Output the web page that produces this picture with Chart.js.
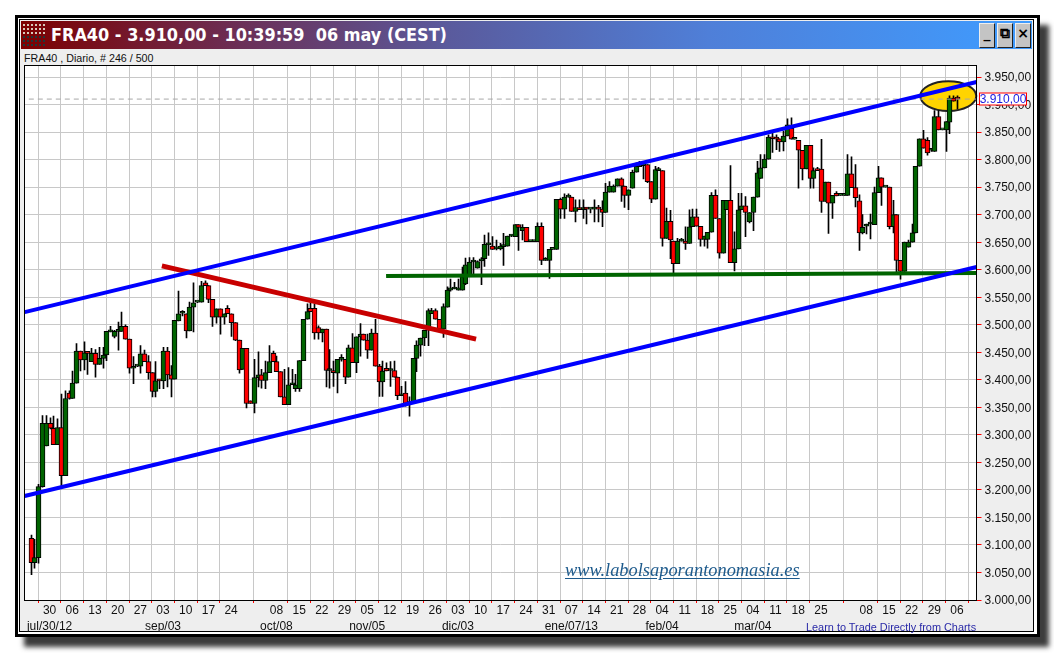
<!DOCTYPE html>
<html>
<head>
<meta charset="utf-8">
<title>FRA40</title>
<script src="https://cdn.jsdelivr.net/npm/chart.js@4"></script>
<style>
html, body { margin: 0; padding: 0; background: #fff; width: 1054px; height: 653px; overflow: hidden; }
#win { position: absolute; left: 15px; top: 15px; width: 1019px; height: 616px; border: 3px solid #000; background: #fff; box-shadow: 9px 10px 5px #3c3c3c; }
#inner { position: absolute; left: 1px; top: 1px; width: 1013px; height: 611px; border: 1px solid #000; background: #eee; }
#bar { position: absolute; left: 1px; top: 1px; width: 1011px; height: 28px; background: linear-gradient(90deg, #7d0000 0%, #6b3058 22%, #5a5a9c 42%, #4f7fd8 68%, #3f9cff 100%); }
#grip { position: absolute; left: 1px; top: 2px; width: 25px; height: 12px; background-image: radial-gradient(circle, #d8c8b8 1px, transparent 1.2px); background-size: 4px 4px; }
#grip2 { position: absolute; left: 1px; top: 14px; width: 25px; height: 12px; background-image: radial-gradient(circle, #20383a 1px, transparent 1.2px); background-size: 4px 4px; }
#title { position: absolute; left: 30px; top: 3px; font: bold 17.9px "DejaVu Sans", sans-serif; font-stretch: condensed; color: #fff; white-space: pre; }
.btn { position: absolute; top: 2px; width: 14px; height: 23px; background: #c4c4c4; border: 1px solid; border-color: #eee #222 #222 #eee; font: bold 14px "DejaVu Sans", sans-serif; color: #000; text-align: center; line-height: 18px; }
#info { position: absolute; left: 24px; top: 52px; font: 10.7px "Liberation Sans", sans-serif; color: #111; white-space: nowrap; }
#chartBox { position: absolute; left: 20px; top: 60px; }
#site { position: absolute; left: 565px; top: 560px; font: italic 18.4px "Liberation Serif", serif; color: #1d5a8c; text-decoration: underline; text-underline-offset: 2px; white-space: nowrap; }
#learn { position: absolute; left: 806px; top: 621px; font: 10.9px "Liberation Sans", sans-serif; color: #2a2aa8; white-space: nowrap; }
</style>
</head>
<body>
<div id="win"><div id="inner">
  <div id="bar">
    <div id="grip"></div><div id="grip2"></div>
    <div id="title">FRA40 - 3.910,00 - 10:39:59  06 may (CEST)</div>
    <div class="btn" style="left:958px">_</div>
    <div class="btn" style="left:976px">&#10697;</div>
    <div class="btn" style="left:994px">×</div>
  </div>
</div></div>
<div id="info">FRA40 , Diario, # 246 / 500</div>
<div id="chartBox"><canvas id="graficoVelas" width="1013" height="572"></canvas></div>
<div id="site">www.labolsaporantonomasia.es</div>
<div id="learn">Learn to Trade Directly from Charts</div>

<script>
// velas diarias, una fila por cada 10 barras
const opens = [
  3112,3068,3077,3206,3280,3321,3312,3282,3313,3226,
  3376,3366,3394,3452,3436,3449,3433,3448,3428,3439,
  3445,3487,3479,3488,3488,3497,3474,3421,3425,3425,
  3447,3433,3413,3379,3401,3398,3452,3409,3401,3507,
  3521,3520,3489,3532,3541,3541,3576,3571,3546,3514,
  3529,3514,3530,3520,3504,3472,3419,3457,3362,3357,
  3404,3409,3399,3413,3448,3433,3415,3369,3355,3391,
  3384,3384,3435,3510,3530,3530,3495,3485,3492,3417,
  3417,3412,3437,3437,3405,3458,3431,3478,3483,3472,
  3454,3485,3425,3396,3421,3417,3417,3405,3371,3376,
  3357,3357,3439,3463,3476,3490,3520,3526,3510,3492,
  3532,3563,3565,3563,3563,3574,3591,3614,3603,3616,
  3620,3645,3643,3638,3638,3642,3643,3661,3660,3682,
  3671,3677,3651,3651,3651,3679,3617,3617,3637,3637,
  3728,3710,3732,3732,3706,3713,3709,3713,3710,3710,
  3713,3710,3704,3741,3741,3752,3765,3752,3735,3748,
  3777,3787,3789,3791,3760,3728,3780,3780,3657,3688,
  3652,3611,3652,3652,3648,3678,3696,3679,3655,3655,
  3668,3735,3693,3630,3709,3726,3613,3638,3709,3716,
  3687,3704,3732,3766,3785,3801,3841,3841,3838,3832,
  3843,3857,3837,3835,3817,3783,3826,3766,3781,3783,
  3724,3759,3721,3739,3735,3735,3735,3774,3749,3725,
  3667,3679,3683,3682,3740,3767,3750,3750,3678,3700,
  3617,3597,3641,3650,3667,3788,3838,3835,3817,3815,
  3878,3854,3854,3868,3912,3912
];
const highs = [
  3118,3110,3210,3335,3335,3331,3334,3329,3374,3380,
  3380,3416,3466,3452,3469,3449,3457,3455,3459,3459,
  3488,3497,3490,3505,3523,3500,3474,3442,3425,3462,
  3454,3444,3413,3433,3401,3459,3459,3426,3508,3561,
  3526,3520,3541,3576,3541,3579,3580,3571,3546,3529,
  3529,3520,3535,3520,3504,3472,3457,3457,3362,3437,
  3451,3419,3434,3462,3452,3443,3415,3419,3422,3419,
  3410,3435,3510,3538,3541,3538,3498,3492,3492,3455,
  3434,3437,3446,3437,3463,3484,3478,3502,3483,3483,
  3492,3510,3428,3434,3431,3433,3434,3405,3388,3397,
  3369,3439,3471,3476,3490,3529,3530,3529,3510,3538,
  3569,3583,3577,3583,3605,3621,3622,3622,3616,3622,
  3663,3667,3660,3654,3648,3666,3661,3663,3682,3682,
  3682,3677,3651,3651,3685,3685,3622,3637,3637,3728,
  3730,3738,3738,3732,3727,3727,3727,3713,3710,3727,
  3717,3725,3757,3760,3754,3765,3767,3752,3745,3781,
  3794,3797,3794,3791,3760,3788,3786,3780,3712,3708,
  3652,3657,3657,3678,3709,3710,3710,3679,3661,3668,
  3740,3745,3693,3726,3726,3789,3669,3739,3739,3733,
  3704,3732,3797,3809,3809,3845,3848,3845,3838,3852,
  3874,3876,3837,3835,3817,3826,3826,3785,3786,3837,
  3759,3759,3735,3742,3735,3735,3809,3805,3791,3736,
  3700,3683,3701,3750,3788,3767,3750,3750,3726,3700,
  3617,3650,3654,3683,3788,3838,3853,3840,3820,3889,
  3889,3854,3869,3916,3916,3916
];
const lows = [
  3046,3058,3067,3205,3280,3311,3282,3282,3204,3226,
  3365,3366,3394,3416,3418,3410,3433,3405,3428,3421,
  3435,3487,3476,3454,3488,3474,3412,3393,3424,3412,
  3433,3401,3369,3369,3384,3384,3387,3369,3401,3507,
  3516,3476,3489,3487,3540,3541,3571,3540,3497,3503,
  3483,3501,3520,3479,3471,3412,3419,3349,3357,3340,
  3387,3385,3384,3413,3433,3415,3369,3355,3355,3391,
  3379,3379,3435,3510,3524,3474,3474,3469,3387,3385,
  3388,3376,3434,3393,3405,3431,3413,3443,3472,3439,
  3454,3425,3370,3370,3416,3388,3405,3364,3371,3352,
  3334,3357,3415,3443,3462,3462,3520,3510,3490,3477,
  3532,3561,3565,3563,3563,3573,3591,3591,3603,3573,
  3606,3626,3637,3636,3636,3608,3643,3660,3660,3635,
  3654,3651,3651,3651,3651,3609,3617,3584,3637,3637,
  3693,3693,3732,3706,3687,3709,3693,3683,3703,3687,
  3687,3678,3704,3741,3741,3752,3724,3713,3709,3748,
  3777,3787,3765,3758,3722,3728,3780,3643,3657,3620,
  3593,3611,3652,3637,3648,3678,3679,3643,3643,3639,
  3668,3693,3621,3630,3709,3613,3598,3638,3709,3660,
  3685,3671,3732,3766,3785,3801,3813,3818,3815,3816,
  3843,3837,3837,3748,3763,3783,3748,3748,3780,3704,
  3724,3666,3693,3734,3735,3735,3735,3749,3714,3635,
  3665,3665,3656,3682,3740,3717,3750,3674,3667,3595,
  3583,3597,3641,3650,3667,3788,3821,3808,3815,3815,
  3854,3854,3815,3847,3906,3892
];
const closes = [
  3068,3077,3206,3321,3321,3312,3282,3313,3226,3366,
  3366,3394,3452,3436,3449,3448,3448,3428,3439,3445,
  3488,3488,3488,3488,3497,3474,3421,3424,3425,3447,
  3433,3413,3379,3398,3398,3452,3409,3401,3508,3520,
  3521,3489,3532,3540,3541,3571,3571,3546,3514,3529,
  3514,3520,3520,3504,3472,3418,3457,3357,3357,3404,
  3409,3399,3413,3433,3433,3415,3369,3355,3391,3391,
  3391,3435,3510,3524,3524,3485,3485,3492,3417,3417,
  3413,3437,3437,3405,3458,3431,3478,3483,3472,3454,
  3485,3425,3396,3416,3416,3417,3405,3371,3371,3357,
  3357,3439,3463,3476,3490,3526,3526,3510,3492,3533,
  3563,3567,3567,3567,3587,3609,3614,3616,3615,3620,
  3646,3646,3637,3638,3643,3644,3661,3661,3682,3677,
  3677,3651,3651,3651,3679,3617,3617,3637,3637,3728,
  3710,3732,3732,3706,3713,3709,3713,3710,3710,3713,
  3710,3704,3741,3752,3752,3765,3752,3735,3745,3777,
  3788,3789,3789,3760,3728,3782,3780,3657,3688,3654,
  3611,3652,3652,3648,3678,3696,3679,3655,3661,3668,
  3735,3693,3630,3726,3726,3613,3638,3709,3716,3704,
  3704,3732,3776,3785,3801,3841,3838,3837,3832,3843,
  3863,3837,3837,3817,3783,3826,3766,3780,3780,3724,
  3759,3721,3735,3734,3735,3735,3774,3749,3731,3667,
  3677,3683,3683,3740,3767,3750,3750,3678,3700,3617,
  3597,3650,3650,3667,3788,3838,3821,3812,3817,3878,
  3854,3854,3869,3912,3906,3910
];

// eje de fechas: barra donde cae cada marca semanal
const xTickBars = [5,11,17,23,29,35,41,47,53,65,71,77,83,89,95,101,107,113,119,125,131,137,143,149,155,161,167,173,179,185,191,197,203,209,221,227,233,239,245];
const xTickDays = ['30','06','13','20','27','03','10','17','24','08','15','22','29','05','12','19','26','03','10','17','24','31','07','14','21','28','04','11','18','25','04','11','18','25','08','15','22','29','06'];
const xTickMonths = ['jul/30/12','','','','','sep/03','','','','oct/08','','','','nov/05','','','','dic/03','','','','','ene/07/13','','','','feb/04','','','','mar/04','','','','','','','',''];

const yTicks = [3000,3050,3100,3150,3200,3250,3300,3350,3400,3450,3500,3550,3600,3650,3700,3750,3800,3850,3900,3950];
const yTickLabels = ['3.000,00','3.050,00','3.100,00','3.150,00','3.200,00','3.250,00','3.300,00','3.350,00','3.400,00','3.450,00','3.500,00','3.550,00','3.600,00','3.650,00','3.700,00','3.750,00','3.800,00','3.850,00','3.900,00','3.950,00'];

// lineas dibujadas a mano sobre el grafico [barra, precio]
const canalSuperior = [[-1.6, 3523], [250.2, 3941]];
const canalInferior = [[-1.6, 3189], [250.2, 3605]];
const resistencia = [[34.7, 3607], [117.8, 3474]];
const soporte = [[94, 3588.5], [250.2, 3594]];
const ultimoPrecio = 3910;
const ultimoPrecioLabel = '3.910,00';
const ultimoPrecioDesde = -0.5;
const elipse = { bar: 242.7, precio: 3915.5, radioBarras: 7.4, radioPrecio: 27 };

const velaVerde = '#006400';
const velaRoja = '#ff0000';

function toPoints(pairs) {
    return pairs.map(function (p) { return { x: p[0], y: p[1] }; });
}

const wicks = opens.map(function (o, i) { return { x: i, y: [lows[i], highs[i]] }; });
const bodies = opens.map(function (o, i) { return { x: i, y: [Math.min(o, closes[i]), Math.max(o, closes[i])] }; });
const bodyColors = opens.map(function (o, i) { return closes[i] >= o ? velaVerde : velaRoja; });

// ajusta las velas al pixel para que no salgan borrosas
const snapBars = {
    id: 'snapBars',
    afterDatasetsUpdate: function (chart) {
        [0, 1].forEach(function (d) {
            chart.getDatasetMeta(d).data.forEach(function (el) {
                el.x = Math.round(el.x) + 0.5;
            });
        });
    }
};

const fondo = {
    id: 'fondo',
    beforeDraw: function (chart) {
        const a = chart.chartArea, ctx = chart.ctx;
        ctx.save();
        ctx.fillStyle = '#fff';
        ctx.fillRect(a.left, a.top, a.right - a.left, a.bottom - a.top);
        ctx.restore();
    },
    beforeDatasetsDraw: function (chart) {
        const x = chart.scales.x, y = chart.scales.y, ctx = chart.ctx;
        const cx = x.getPixelForValue(elipse.bar), cy = y.getPixelForValue(elipse.precio);
        const rx = x.getPixelForValue(elipse.bar + elipse.radioBarras) - cx;
        const ry = cy - y.getPixelForValue(elipse.precio + elipse.radioPrecio);
        ctx.save();
        ctx.beginPath();
        ctx.ellipse(cx, cy, rx, ry, 0, 0, Math.PI * 2);
        ctx.fillStyle = '#ffd400';
        ctx.fill();
        ctx.lineWidth = 2;
        ctx.strokeStyle = '#222';
        ctx.stroke();
        ctx.restore();
    },
    afterDraw: function (chart) {
        const a = chart.chartArea, ctx = chart.ctx, y = chart.scales.y;
        ctx.save();
        ctx.strokeStyle = '#000';
        ctx.lineWidth = 1;
        ctx.strokeRect(Math.floor(a.left) + 0.5, Math.floor(a.top) + 0.5, Math.round(a.right - a.left), Math.round(a.bottom - a.top));
        // etiqueta del ultimo precio
        const py = Math.round(y.getPixelForValue(ultimoPrecio));
        ctx.fillStyle = '#fff';
        ctx.fillRect(a.right + 3, py - 6, 47, 12);
        ctx.strokeStyle = '#ff0000';
        ctx.strokeRect(a.right + 3, py - 6, 47, 12);
        ctx.fillStyle = '#1a1ae0';
        ctx.font = '12px "Liberation Sans"';
        ctx.textBaseline = 'middle';
        ctx.textAlign = 'center';
        ctx.fillText(ultimoPrecioLabel, a.right + 26.5, py + 0.5);
        ctx.restore();
    }
};

new Chart(document.getElementById('graficoVelas'), {
    type: 'bar',
    data: {
        datasets: [
            { data: wicks, backgroundColor: '#000', barThickness: 1, order: 6 },
            { data: bodies, backgroundColor: bodyColors, borderColor: '#000', borderWidth: 1, borderSkipped: false, barThickness: 5, minBarLength: 2, order: 5 },
            { type: 'line', data: [{ x: ultimoPrecioDesde, y: ultimoPrecio }, { x: 250.2, y: ultimoPrecio }], borderColor: '#a8a8a8', borderWidth: 1, borderDash: [5, 4], pointRadius: 0, order: 4 },
            { type: 'line', data: toPoints(soporte), borderColor: '#006400', borderWidth: 4, pointRadius: 0, order: 3 },
            { type: 'line', data: toPoints(resistencia), borderColor: '#c80000', borderWidth: 5, pointRadius: 0, order: 2 },
            { type: 'line', data: toPoints(canalInferior), borderColor: '#0000ff', borderWidth: 4, pointRadius: 0, order: 1 },
            { type: 'line', data: toPoints(canalSuperior), borderColor: '#0000ff', borderWidth: 4, pointRadius: 0, order: 0 }
        ]
    },
    options: {
        responsive: false,
        animation: false,
        grouped: false,
        layout: { padding: { left: 4.5, top: 5.5, right: 0, bottom: 0 } },
        font: { family: '"Liberation Sans"', size: 12 },
        scales: {
            x: {
                type: 'linear',
                offset: false,
                min: -1.64,
                max: 250.16,
                afterBuildTicks: function (axis) {
                    axis.ticks = xTickBars.map(function (b) { return { value: b }; });
                },
                afterFit: function (axis) {
                    axis.height = 32;
                    axis.paddingLeft = 0;
                    axis.paddingRight = 0;
                },
                grid: { color: '#c8c8c8', lineWidth: 1, tickColor: '#ff0000', tickLength: 3 },
                border: { color: '#000' },
                ticks: {
                    autoSkip: false,
                    maxRotation: 0,
                    minRotation: 0,
                    padding: 0,
                    color: '#111',
                    font: { family: '"Liberation Sans"', size: 12, lineHeight: 1.3 },
                    callback: function (value, index) {
                        return [xTickDays[index], xTickMonths[index]];
                    }
                }
            },
            y: {
                position: 'right',
                min: 3000,
                max: 3971,
                afterBuildTicks: function (axis) {
                    axis.ticks = yTicks.map(function (v) { return { value: v }; });
                },
                afterFit: function (axis) {
                    axis.width = 56.5;
                    axis.paddingTop = 0;
                    axis.paddingBottom = 0;
                },
                grid: { color: '#c8c8c8', lineWidth: 1, tickColor: '#ff0000', tickLength: 5 },
                border: { color: '#000' },
                ticks: {
                    padding: 3,
                    labelOffset: 1,
                    color: '#111',
                    font: { family: '"Liberation Sans"', size: 12 },
                    callback: function (value, index) { return yTickLabels[index]; }
                }
            }
        },
        plugins: {
            legend: { display: false },
            tooltip: { enabled: false },
            title: { display: false }
        }
    },
    plugins: [snapBars, fondo]
});
</script>
</body>
</html>
